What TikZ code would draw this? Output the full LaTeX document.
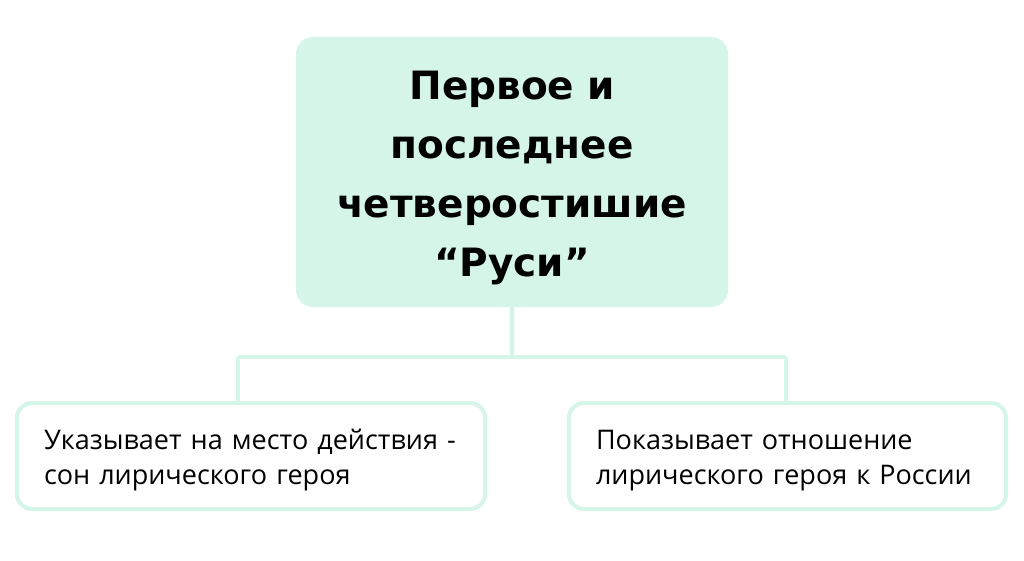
\documentclass[tikz,border=0pt]{standalone}
\usepackage{fontspec}
\setmainfont{Open Sans}
\newfontfamily\headfont{DejaVu Sans}
\definecolor{mint}{RGB}{213,245,232}
\newcommand\lift[1]{\rule{0pt}{#1}}
\begin{document}
\begin{tikzpicture}[x=1pt,y=-1pt]
\tikzset{ link/.style={mint, line width=4pt},
  headbox/.style={fill=mint, rounded corners=17pt, inner sep=0pt,
    minimum width=432pt, minimum height=270pt, text width=420pt, align=center,
    font=\headfont\fontsize{39}{59}\selectfont\bfseries},
  itembox/.style={draw=mint, line width=4pt, fill=white, rounded corners=15pt,
    inner xsep=27pt, inner ysep=0pt, minimum height=106pt, align=left,
    font=\fontsize{27}{35}\selectfont},
}

\useasboundingbox [fill=white] (0,0) rectangle (1024,561);

%\draw [lightgray, dashed](0,0) grid[step=50] (1024,561);

\node [headbox] (title) at (512,172)
  {\lift{40pt}Первое и\\последнее\\четверостишие\\“Руси”};

\node [itembox, text width=414pt] (left)  at (251,456)
  {\lift{29pt}Указывает на место действия -\\сон лирического героя};
\node [itembox, text width=383pt] (right) at (787.5,456)
  {\lift{29pt}Показывает отношение\\лирического героя к России};

\coordinate (hub)  at (512,357);
\coordinate (lhub) at (238,357);
\coordinate (rhub) at (786,357);

\draw [link] (title.south) -- (hub);
\draw [link] (lhub) -- (rhub);
\draw [link] (lhub) -- (lhub |- left.north);
\draw [link] (rhub) -- (rhub |- right.north);
\end{tikzpicture}
\end{document}
